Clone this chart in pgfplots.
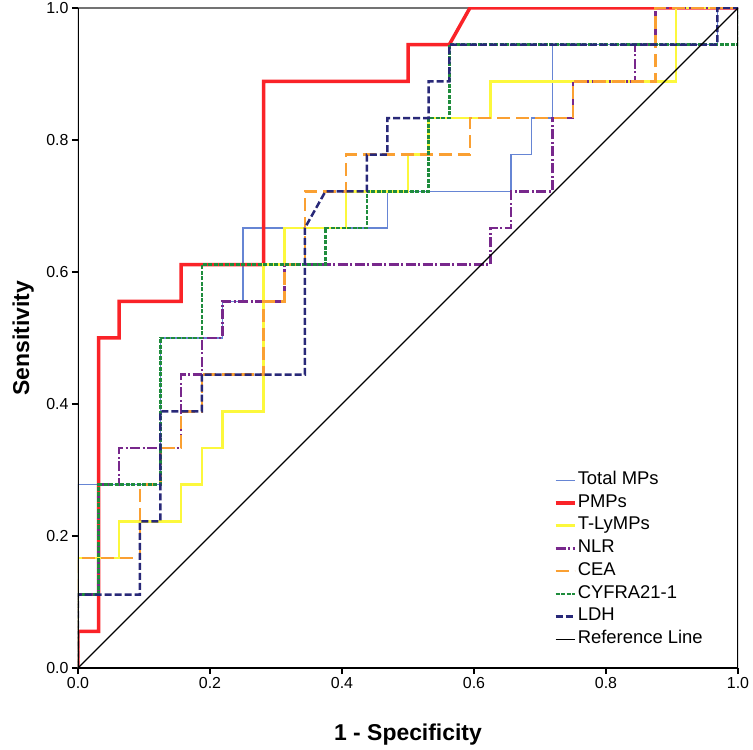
\documentclass[border=0pt]{standalone}
\usepackage{fontspec}
\setmainfont{Liberation Sans}
\usepackage{pgfplots}
\pgfplotsset{compat=1.18}
\definecolor{cTot}{RGB}{102,133,212}
\definecolor{cPMP}{RGB}{250,35,40}
\definecolor{cTLy}{RGB}{252,248,60}
\definecolor{cNLR}{RGB}{120,40,140}
\definecolor{cCEA}{RGB}{250,160,50}
\definecolor{cCYF}{RGB}{30,140,60}
\definecolor{cLDH}{RGB}{40,40,120}
\begin{document}
\begin{tikzpicture}
\begin{axis}[
  at={(0,0)}, anchor=south west,
  width=660bp, height=660bp, scale only axis,
  xmin=0, xmax=1, ymin=0, ymax=1,
  xtick={0,0.2,0.4,0.6,0.8,1}, ytick={0,0.2,0.4,0.6,0.8,1},
  tick pos=left, tick align=outside,
  major tick length=6bp,
  every tick/.style={black, line width=1.5bp},
  axis line style={draw=none},
  /pgf/number format/assume math mode=true,
  ticklabel style={font=\fontsize{16}{19}\selectfont},
  xticklabel={\pgfmathprintnumber[fixed,fixed zerofill,precision=1]{\tick}},
  yticklabel={\pgfmathprintnumber[fixed,fixed zerofill,precision=1]{\tick}},
  xlabel={1 - Specificity}, ylabel={Sensitivity},
  label style={font=\fontsize{23}{26}\selectfont\bfseries},
  xlabel style={at={(axis description cs:0.5,-0.1106)}, anchor=base},
  ylabel style={at={(axis description cs:-0.0742,0.5)}, anchor=base},
  legend style={draw=none, fill=none, at={(axis cs:0.716,0.027)}, anchor=south west,
    font=\fontsize{18.5}{21}\selectfont, row sep=5.2bp, column sep=0bp,
    nodes={inner ysep=0pt, inner xsep=1.5bp, text height=13bp, text depth=4.5bp}},
  legend cell align=left,
  legend image code/.code={\draw[#1] (0bp,0bp) -- (19bp,0bp);},
  line cap=butt, line join=miter,
]
\draw[black!55, line width=3bp] (rel axis cs:0,1) -- (rel axis cs:1,1);

\addplot[cTot, line width=1.3bp] coordinates {(0,0)(0,0.2778)(0.03125,0.2778)(0.125,0.2778)(0.125,0.5)(0.21875,0.5)(0.21875,0.5556)(0.25,0.5556)(0.25,0.6667)(0.46875,0.6667)(0.46875,0.7222)(0.65625,0.7222)(0.65625,0.7778)(0.6875,0.7778)(0.6875,0.8333)(0.71875,0.8333)(0.71875,0.9444)(0.96875,0.9444)(0.96875,1)(1,1)};
\addlegendentry{Total MPs}

\addplot[cPMP, line width=3.5bp] coordinates {(0,0)(0,0.0556)(0.03125,0.0556)(0.03125,0.5)(0.0625,0.5)(0.0625,0.5556)(0.15625,0.5556)(0.15625,0.6111)(0.28125,0.6111)(0.28125,0.8889)(0.5,0.8889)(0.5,0.9444)(0.5625,0.9444)(0.59375,1)(1,1)};
\addlegendentry{PMPs}

\addplot[cTLy, line width=2.5bp] coordinates {(0,0)(0,0.1667)(0.0625,0.1667)(0.0625,0.2222)(0.15625,0.2222)(0.15625,0.2778)(0.1875,0.2778)(0.1875,0.3333)(0.21875,0.3333)(0.21875,0.3889)(0.28125,0.3889)(0.28125,0.6111)(0.3125,0.6111)(0.3125,0.6667)(0.40625,0.6667)(0.40625,0.7222)(0.5,0.7222)(0.5,0.7778)(0.53125,0.7778)(0.53125,0.8333)(0.625,0.8333)(0.625,0.8889)(0.90625,0.8889)(0.90625,1)(1,1)};
\addlegendentry{T-LyMPs}

\addplot[cNLR, line width=2.5bp, dash pattern=on 10bp off 2.5bp on 2bp off 2.5bp] coordinates {(0,0)(0,0.1111)(0.03125,0.1111)(0.03125,0.2778)(0.0625,0.2778)(0.0625,0.3333)(0.15625,0.3333)(0.15625,0.4444)(0.1875,0.4444)(0.1875,0.5)(0.21875,0.5)(0.21875,0.5556)(0.3125,0.5556)(0.3125,0.6111)(0.625,0.6111)(0.625,0.6667)(0.65625,0.6667)(0.65625,0.7222)(0.71875,0.7222)(0.71875,0.8333)(0.75,0.8333)(0.75,0.8889)(0.84375,0.8889)(0.84375,0.9444)(0.875,0.9444)(0.875,1)(1,1)};
\addlegendentry{NLR}

\addplot[cCEA, line width=2.5bp, dash pattern=on 13bp off 6bp] coordinates {(0,0)(0,0.1667)(0.09375,0.1667)(0.09375,0.2778)(0.125,0.2778)(0.125,0.3333)(0.15625,0.3333)(0.15625,0.3889)(0.1875,0.3889)(0.1875,0.4444)(0.28125,0.4444)(0.28125,0.5556)(0.3125,0.5556)(0.3125,0.6111)(0.34375,0.6111)(0.34375,0.7222)(0.40625,0.7222)(0.40625,0.7778)(0.59375,0.7778)(0.59375,0.8333)(0.75,0.8333)(0.75,0.8889)(0.875,0.8889)(0.875,1)(1,1)};
\addlegendentry{CEA}

\addplot[cCYF, line width=2.5bp, dash pattern=on 4bp off 1.5bp] coordinates {(0,0)(0,0.1111)(0.03125,0.1111)(0.03125,0.2778)(0.125,0.2778)(0.125,0.5)(0.1875,0.5)(0.1875,0.6111)(0.375,0.6111)(0.375,0.6667)(0.4375,0.6667)(0.4375,0.7222)(0.53125,0.7222)(0.53125,0.8333)(0.5625,0.8333)(0.5625,0.9444)(1,0.9444)(1,1)};
\addlegendentry{CYFRA21-1}

\addplot[cLDH, line width=2.5bp, dash pattern=on 7bp off 3bp] coordinates {(0,0)(0,0.1111)(0.09375,0.1111)(0.09375,0.2222)(0.125,0.2222)(0.125,0.3889)(0.1875,0.3889)(0.1875,0.4444)(0.34375,0.4444)(0.34375,0.6667)(0.375,0.7222)(0.4375,0.7222)(0.4375,0.7778)(0.46875,0.7778)(0.46875,0.8333)(0.53125,0.8333)(0.53125,0.8889)(0.5625,0.8889)(0.5625,0.9444)(0.96875,0.9444)(0.96875,1)(1,1)};
\addlegendentry{LDH}

\addplot[black, line width=1.4bp] coordinates {(0,0)(1,1)};
\addlegendentry{Reference Line}

\draw[black, line width=1.8bp] (rel axis cs:0,1) -- (rel axis cs:0,0) -- (rel axis cs:1,0) -- (rel axis cs:1,1);
\end{axis}
\pgfresetboundingbox
\path[use as bounding box] (-78bp,-82bp) rectangle (675bp,668bp);
\end{tikzpicture}
\end{document}
